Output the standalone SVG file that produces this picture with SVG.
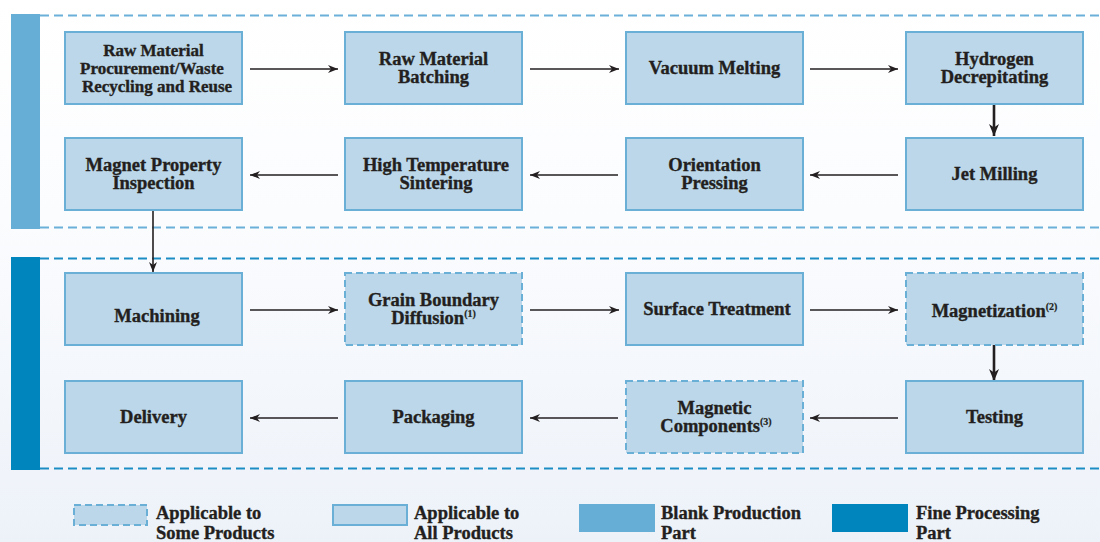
<svg xmlns="http://www.w3.org/2000/svg" width="1100" height="542" viewBox="0 0 1100 542">
<defs>
<linearGradient id="bg" x1="0" y1="0" x2="0" y2="1">
<stop offset="0" stop-color="#FFFFFF"/>
<stop offset="0.4" stop-color="#FBFCFE"/>
<stop offset="1" stop-color="#EDF2F9"/>
</linearGradient>
<marker id="ah" viewBox="0 0 10 8" refX="10" refY="4" markerWidth="10" markerHeight="8" markerUnits="userSpaceOnUse" orient="auto">
<path d="M0,0 L10,4 L0,8 L3,4 Z" fill="#231F20"/>
</marker>
<marker id="ahb" viewBox="0 0 12 10" refX="12" refY="5" markerWidth="12" markerHeight="10" markerUnits="userSpaceOnUse" orient="auto">
<path d="M0,0 L12,5 L0,10 L3.5,5 Z" fill="#231F20"/>
</marker>
</defs>
<style>
text{font-family:"Liberation Serif","Times New Roman",serif;font-weight:bold;font-size:18.5px;fill:#231F20;stroke:#231F20;stroke-width:0.35;text-anchor:middle}
.sm{font-size:17px}
.lg{text-anchor:start}
.sup{font-size:10px;stroke-width:0.2}
.box{fill:#BCD7EA;stroke:#6AAFD6;stroke-width:2}
.dbox{fill:#BCD7EA;stroke:#6AAFD6;stroke-width:2;stroke-dasharray:7 4}
.sec1{stroke:#6BB0D8;stroke-width:2;stroke-dasharray:9 5;fill:none}
.sec2{stroke:#1C8DC4;stroke-width:2;stroke-dasharray:9 5;fill:none}
.ar{stroke:#231F20;stroke-width:1.6;fill:none}
.arb{stroke:#231F20;stroke-width:2.6;fill:none}
</style>
<rect x="0" y="0" width="1100" height="542" fill="url(#bg)"/>

<g id="section-blank">
<rect x="11" y="14" width="29" height="215" fill="#67AED6"/>
<line class="sec1" x1="40" y1="15.5" x2="1100" y2="15.5"/>
<line class="sec1" x1="40" y1="227.5" x2="1100" y2="227.5"/>
</g>
<g id="section-fine">
<rect x="11" y="257" width="29" height="213" fill="#0085BD"/>
<line class="sec2" x1="40" y1="258.5" x2="1100" y2="258.5"/>
<line class="sec2" x1="40" y1="468.5" x2="1100" y2="468.5"/>
</g>

<g id="connectors">
<line class="ar" x1="250" y1="69" x2="338" y2="69" marker-end="url(#ah)"/>
<line class="ar" x1="530" y1="69" x2="619" y2="69" marker-end="url(#ah)"/>
<line class="ar" x1="810" y1="69" x2="898" y2="69" marker-end="url(#ah)"/>
<line class="arb" x1="994" y1="104" x2="994" y2="136" marker-end="url(#ahb)"/>
<line class="ar" x1="898" y1="175" x2="810" y2="175" marker-end="url(#ah)"/>
<line class="ar" x1="618" y1="175" x2="530" y2="175" marker-end="url(#ah)"/>
<line class="ar" x1="338" y1="175" x2="250" y2="175" marker-end="url(#ah)"/>
<line class="ar" x1="153" y1="210" x2="153" y2="272" marker-end="url(#ah)"/>
<line class="ar" x1="250" y1="310" x2="338" y2="310" marker-end="url(#ah)"/>
<line class="ar" x1="530" y1="310" x2="619" y2="310" marker-end="url(#ah)"/>
<line class="ar" x1="810" y1="310" x2="898" y2="310" marker-end="url(#ah)"/>
<line class="arb" x1="994" y1="345" x2="994" y2="381" marker-end="url(#ahb)"/>
<line class="ar" x1="898" y1="418" x2="810" y2="418" marker-end="url(#ah)"/>
<line class="ar" x1="618" y1="418" x2="530" y2="418" marker-end="url(#ah)"/>
<line class="ar" x1="338" y1="418" x2="250" y2="418" marker-end="url(#ah)"/>
</g>

<g id="n-raw-procurement">
<rect class="box" x="65" y="32" width="177" height="72"/>
<text class="sm" x="153.5" y="56">Raw Material</text>
<text class="sm" x="152" y="74">Procurement/Waste</text>
<text class="sm" x="157" y="92">Recycling and Reuse</text>
</g>
<g id="n-raw-batching">
<rect class="box" x="345" y="32" width="177" height="72"/>
<text x="433.5" y="65">Raw Material</text>
<text x="433.5" y="83">Batching</text>
</g>
<g id="n-vacuum-melting">
<rect class="box" x="626" y="32" width="177" height="72"/>
<text x="714.5" y="74">Vacuum Melting</text>
</g>
<g id="n-hydrogen">
<rect class="box" x="906" y="32" width="177" height="72"/>
<text x="994.5" y="65">Hydrogen</text>
<text x="994.5" y="83">Decrepitating</text>
</g>
<g id="n-jet-milling">
<rect class="box" x="906" y="138" width="177" height="72"/>
<text x="994.5" y="180">Jet Milling</text>
</g>
<g id="n-orientation">
<rect class="box" x="626" y="138" width="177" height="72"/>
<text x="714.5" y="171">Orientation</text>
<text x="714.5" y="189">Pressing</text>
</g>
<g id="n-sintering">
<rect class="box" x="345" y="138" width="177" height="72"/>
<text x="436" y="171">High Temperature</text>
<text x="436" y="189">Sintering</text>
</g>
<g id="n-inspection">
<rect class="box" x="65" y="138" width="177" height="72"/>
<text x="153.5" y="171">Magnet Property</text>
<text x="153.5" y="189">Inspection</text>
</g>
<g id="n-machining">
<rect class="box" x="65" y="273" width="177" height="72"/>
<text x="157" y="322">Machining</text>
</g>
<g id="n-gbd">
<rect class="dbox" x="345" y="273" width="177" height="72"/>
<text x="433.5" y="306">Grain Boundary</text>
<text x="433.5" y="324">Diffusion<tspan class="sup" dy="-7">(1)</tspan></text>
</g>
<g id="n-surface">
<rect class="box" x="626" y="273" width="177" height="72"/>
<text x="717" y="315">Surface Treatment</text>
</g>
<g id="n-magnetization">
<rect class="dbox" x="906" y="273" width="177" height="72"/>
<text x="994.5" y="317">Magnetization<tspan class="sup" dy="-7">(2)</tspan></text>
</g>
<g id="n-testing">
<rect class="box" x="906" y="381" width="177" height="72"/>
<text x="994.5" y="423">Testing</text>
</g>
<g id="n-components">
<rect class="dbox" x="626" y="381" width="177" height="72"/>
<text x="714.5" y="414">Magnetic</text>
<text x="716" y="432">Components<tspan class="sup" dy="-7">(3)</tspan></text>
</g>
<g id="n-packaging">
<rect class="box" x="345" y="381" width="177" height="72"/>
<text x="433.5" y="423">Packaging</text>
</g>
<g id="n-delivery">
<rect class="box" x="65" y="381" width="177" height="72"/>
<text x="153.5" y="423">Delivery</text>
</g>

<g id="legend">
<rect class="dbox" x="74" y="505" width="73" height="20"/>
<text class="lg" x="156" y="519">Applicable to</text>
<text class="lg" x="156" y="539">Some Products</text>
<rect class="box" x="333" y="505" width="74" height="20"/>
<text class="lg" x="414" y="519">Applicable to</text>
<text class="lg" x="414" y="539">All Products</text>
<rect x="579" y="504" width="76" height="28" fill="#67AED6"/>
<text class="lg" x="661" y="519">Blank Production</text>
<text class="lg" x="661" y="539">Part</text>
<rect x="832" y="504" width="76" height="28" fill="#0085BD"/>
<text class="lg" x="916" y="519">Fine Processing</text>
<text class="lg" x="916" y="539">Part</text>
</g>
</svg>
